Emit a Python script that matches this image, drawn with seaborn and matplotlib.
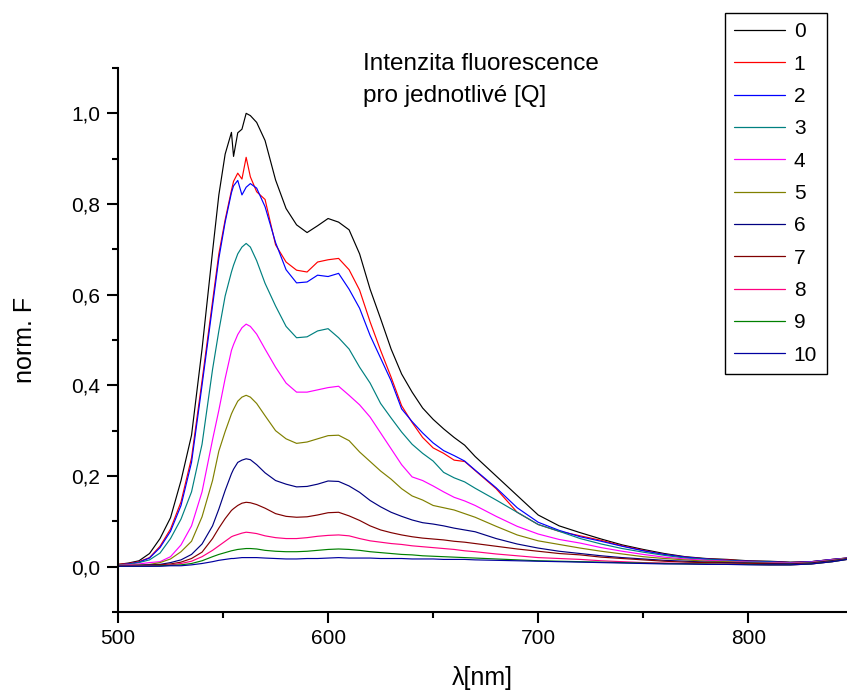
import matplotlib
matplotlib.use("Agg")
import matplotlib.pyplot as plt
import seaborn as sns
import pandas as pd
from matplotlib.ticker import MultipleLocator, FuncFormatter
from matplotlib.lines import Line2D

wavelength = [500, 505, 510, 515, 520, 525, 530, 535, 540, 545, 548, 551, 554, 555, 557, 559, 561, 563, 566,
              570, 575, 580, 585, 590, 595, 600, 605, 610, 615, 620, 625, 630, 635, 640, 645, 650, 655, 660, 665, 670,
              680, 690, 700, 710, 720, 730, 740, 750, 760, 770, 780, 790, 800, 810, 820, 830, 840, 847]

q0 = [0.005, 0.008, 0.013, 0.029, 0.062, 0.108, 0.190, 0.290, 0.480, 0.695, 0.820, 0.910, 0.958, 0.905, 0.957, 0.965, 1.000, 0.995, 0.980,
      0.940, 0.853, 0.790, 0.754, 0.737, 0.752, 0.768, 0.760, 0.743, 0.690, 0.612, 0.547, 0.480, 0.425, 0.385, 0.350, 0.325, 0.304, 0.285, 0.268, 0.243,
      0.200, 0.157, 0.114, 0.090, 0.075, 0.061, 0.048, 0.038, 0.029, 0.022, 0.018, 0.016, 0.013, 0.012, 0.010, 0.011, 0.016, 0.019]
q1 = [0.005, 0.007, 0.011, 0.020, 0.045, 0.083, 0.143, 0.240, 0.410, 0.585, 0.690, 0.765, 0.830, 0.850, 0.868, 0.855, 0.903, 0.860, 0.827,
      0.810, 0.710, 0.672, 0.654, 0.650, 0.672, 0.677, 0.680, 0.655, 0.610, 0.540, 0.477, 0.418, 0.355, 0.318, 0.285, 0.262, 0.250, 0.235, 0.232, 0.212,
      0.172, 0.120, 0.093, 0.078, 0.068, 0.058, 0.046, 0.036, 0.027, 0.021, 0.017, 0.015, 0.012, 0.011, 0.009, 0.011, 0.016, 0.019]
q2 = [0.004, 0.006, 0.010, 0.019, 0.042, 0.078, 0.135, 0.230, 0.400, 0.575, 0.680, 0.760, 0.825, 0.840, 0.852, 0.820, 0.837, 0.845, 0.835,
      0.794, 0.715, 0.655, 0.626, 0.628, 0.643, 0.640, 0.647, 0.612, 0.570, 0.510, 0.460, 0.410, 0.348, 0.320, 0.295, 0.273, 0.256, 0.245, 0.233, 0.213,
      0.174, 0.130, 0.098, 0.080, 0.066, 0.056, 0.045, 0.035, 0.027, 0.021, 0.017, 0.014, 0.012, 0.011, 0.009, 0.011, 0.016, 0.019]
q3 = [0.004, 0.005, 0.009, 0.015, 0.030, 0.062, 0.105, 0.165, 0.270, 0.435, 0.520, 0.597, 0.650, 0.665, 0.690, 0.705, 0.713, 0.705, 0.675,
      0.625, 0.575, 0.530, 0.505, 0.507, 0.520, 0.525, 0.505, 0.480, 0.440, 0.405, 0.360, 0.328, 0.297, 0.270, 0.250, 0.233, 0.208, 0.196, 0.187, 0.173,
      0.147, 0.120, 0.093, 0.078, 0.062, 0.050, 0.040, 0.032, 0.025, 0.019, 0.016, 0.013, 0.011, 0.010, 0.008, 0.010, 0.015, 0.018]
q4 = [0.003, 0.004, 0.006, 0.009, 0.011, 0.022, 0.048, 0.090, 0.165, 0.280, 0.345, 0.415, 0.477, 0.490, 0.512, 0.527, 0.535, 0.530, 0.513,
      0.480, 0.440, 0.405, 0.385, 0.385, 0.390, 0.395, 0.398, 0.378, 0.357, 0.330, 0.295, 0.260, 0.225, 0.198, 0.190, 0.178, 0.165, 0.153, 0.145, 0.135,
      0.111, 0.089, 0.072, 0.060, 0.052, 0.042, 0.034, 0.027, 0.021, 0.017, 0.014, 0.012, 0.010, 0.009, 0.008, 0.010, 0.015, 0.018]
q5 = [0.003, 0.003, 0.004, 0.005, 0.009, 0.017, 0.033, 0.056, 0.110, 0.190, 0.255, 0.298, 0.337, 0.347, 0.365, 0.374, 0.378, 0.374, 0.360,
      0.333, 0.300, 0.282, 0.272, 0.275, 0.282, 0.289, 0.290, 0.278, 0.253, 0.232, 0.211, 0.193, 0.172, 0.156, 0.147, 0.135, 0.130, 0.125, 0.117, 0.109,
      0.089, 0.070, 0.057, 0.049, 0.041, 0.034, 0.028, 0.022, 0.018, 0.015, 0.012, 0.011, 0.009, 0.008, 0.007, 0.009, 0.014, 0.018]
q6 = [0.002, 0.002, 0.003, 0.004, 0.005, 0.009, 0.015, 0.027, 0.050, 0.090, 0.127, 0.168, 0.205, 0.215, 0.230, 0.235, 0.238, 0.236, 0.225,
      0.207, 0.190, 0.182, 0.176, 0.177, 0.182, 0.189, 0.188, 0.178, 0.164, 0.146, 0.132, 0.120, 0.111, 0.103, 0.097, 0.094, 0.090, 0.085, 0.081, 0.077,
      0.062, 0.050, 0.041, 0.034, 0.029, 0.024, 0.020, 0.017, 0.014, 0.012, 0.010, 0.009, 0.008, 0.007, 0.006, 0.008, 0.013, 0.017]
q7 = [0.002, 0.002, 0.002, 0.003, 0.004, 0.006, 0.010, 0.018, 0.032, 0.062, 0.085, 0.106, 0.124, 0.128, 0.135, 0.140, 0.142, 0.141, 0.137,
      0.129, 0.117, 0.111, 0.109, 0.110, 0.114, 0.119, 0.120, 0.112, 0.102, 0.090, 0.081, 0.075, 0.070, 0.066, 0.063, 0.061, 0.059, 0.056, 0.054, 0.051,
      0.045, 0.039, 0.034, 0.029, 0.026, 0.021, 0.018, 0.015, 0.012, 0.010, 0.009, 0.008, 0.007, 0.006, 0.005, 0.007, 0.012, 0.017]
q8 = [0.002, 0.002, 0.002, 0.002, 0.002, 0.004, 0.007, 0.012, 0.022, 0.036, 0.046, 0.056, 0.066, 0.068, 0.071, 0.074, 0.076, 0.075, 0.073,
      0.068, 0.064, 0.062, 0.062, 0.064, 0.067, 0.069, 0.070, 0.068, 0.062, 0.057, 0.054, 0.051, 0.049, 0.046, 0.044, 0.042, 0.040, 0.038, 0.035, 0.033,
      0.028, 0.024, 0.020, 0.018, 0.016, 0.013, 0.011, 0.009, 0.008, 0.007, 0.006, 0.005, 0.005, 0.004, 0.004, 0.006, 0.011, 0.016]
q9 = [0.001, 0.001, 0.001, 0.001, 0.002, 0.003, 0.004, 0.007, 0.013, 0.022, 0.027, 0.031, 0.035, 0.036, 0.038, 0.039, 0.040, 0.040, 0.039,
      0.036, 0.034, 0.033, 0.033, 0.034, 0.036, 0.038, 0.039, 0.038, 0.036, 0.033, 0.031, 0.029, 0.027, 0.026, 0.024, 0.023, 0.022, 0.021, 0.020, 0.019,
      0.017, 0.015, 0.013, 0.012, 0.011, 0.010, 0.009, 0.008, 0.007, 0.006, 0.006, 0.005, 0.005, 0.004, 0.004, 0.006, 0.011, 0.016]
q10 = [0.001, 0.001, 0.001, 0.001, 0.001, 0.002, 0.002, 0.004, 0.007, 0.011, 0.014, 0.016, 0.018, 0.018, 0.019, 0.020, 0.020, 0.020, 0.020,
       0.019, 0.018, 0.017, 0.017, 0.018, 0.018, 0.019, 0.020, 0.019, 0.019, 0.019, 0.018, 0.018, 0.018, 0.017, 0.017, 0.017, 0.016, 0.016, 0.016, 0.015,
       0.014, 0.013, 0.012, 0.011, 0.010, 0.009, 0.008, 0.007, 0.006, 0.006, 0.005, 0.005, 0.004, 0.004, 0.004, 0.006, 0.011, 0.016]

series_labels = ["0", "1", "2", "3", "4", "5", "6", "7", "8", "9", "10"]
series_values = [q0, q1, q2, q3, q4, q5, q6, q7, q8, q9, q10]
series_colors = ["#000000", "#FF0000", "#0000FF", "#008080", "#FF00FF", "#808000",
                 "#000080", "#800000", "#FF0080", "#008000", "#0000A0"]

x_ticks = [500, 600, 700, 800]
y_ticks = [0.0, 0.2, 0.4, 0.6, 0.8, 1.0]

sns.set_style("ticks")
plt.rcParams["font.family"] = ["Liberation Sans", "DejaVu Sans"]
plt.rcParams["text.color"] = "black"
plt.rcParams["axes.labelcolor"] = "black"
plt.rcParams["xtick.color"] = "black"
plt.rcParams["ytick.color"] = "black"
plt.rcParams["xtick.labelcolor"] = "black"
plt.rcParams["ytick.labelcolor"] = "black"

rows = []
for lab, vals in zip(series_labels, series_values):
    for w, v in zip(wavelength, vals):
        rows.append({"wl": w, "F": v, "Q": lab})
df = pd.DataFrame(rows)

fig = plt.figure(figsize=(8.47, 6.92), dpi=100)
ax = fig.add_axes([118 / 847, 80 / 692, 1 - 118 / 847, 544 / 692])

palette = dict(zip(series_labels, series_colors))
sns.lineplot(data=df, x="wl", y="F", hue="Q", hue_order=series_labels, palette=palette,
             linewidth=0.85, estimator=None, sort=False, legend=False, ax=ax)

ax.set_xlim(500, 847)
ax.set_ylim(-0.1, 1.1)
ax.set_xticks(x_ticks)
ax.set_yticks(y_ticks)
ax.xaxis.set_minor_locator(MultipleLocator(50))
ax.yaxis.set_minor_locator(MultipleLocator(0.1))
ax.yaxis.set_major_formatter(FuncFormatter(lambda v, p: f"{v:.1f}".replace(".", ",")))

for s in ["top", "right"]:
    ax.spines[s].set_visible(False)
for s in ["left", "bottom"]:
    ax.spines[s].set_linewidth(1.5)
    ax.spines[s].set_color("black")

ax.tick_params(which="major", direction="out", length=8, width=1.5, labelsize=15, color="black", labelcolor="black")
ax.tick_params(which="minor", direction="out", length=4, width=1.5, color="black")
ax.tick_params(axis="x", which="major", pad=4)
ax.tick_params(axis="y", which="major", pad=5)

ax.set_xlabel("λ[nm]", fontsize=18, labelpad=13.5, color="black")
ax.set_ylabel("norm. F", fontsize=18, labelpad=24, color="black")

ax.text(616.5, 1.132, "Intenzita fluorescence\npro jednotlivé [Q]", fontsize=17.5,
        ha="left", va="top", linespacing=1.55, color="black")

handles = [Line2D([0], [0], color=c, lw=0.9) for c in series_colors]
leg = fig.legend(handles, series_labels, loc="upper left",
                 bbox_to_anchor=(725 / 847, 1 - 13 / 692), bbox_transform=fig.transFigure,
                 borderaxespad=0, fontsize=15, frameon=True, fancybox=False, shadow=False,
                 framealpha=1, edgecolor="black", handlelength=2.45, handletextpad=0.4,
                 labelspacing=0.64, borderpad=0.45)
leg.get_frame().set_linewidth(1.0)
for t in leg.get_texts():
    t.set_color("black")

fig.savefig("out.png", dpi=100)
